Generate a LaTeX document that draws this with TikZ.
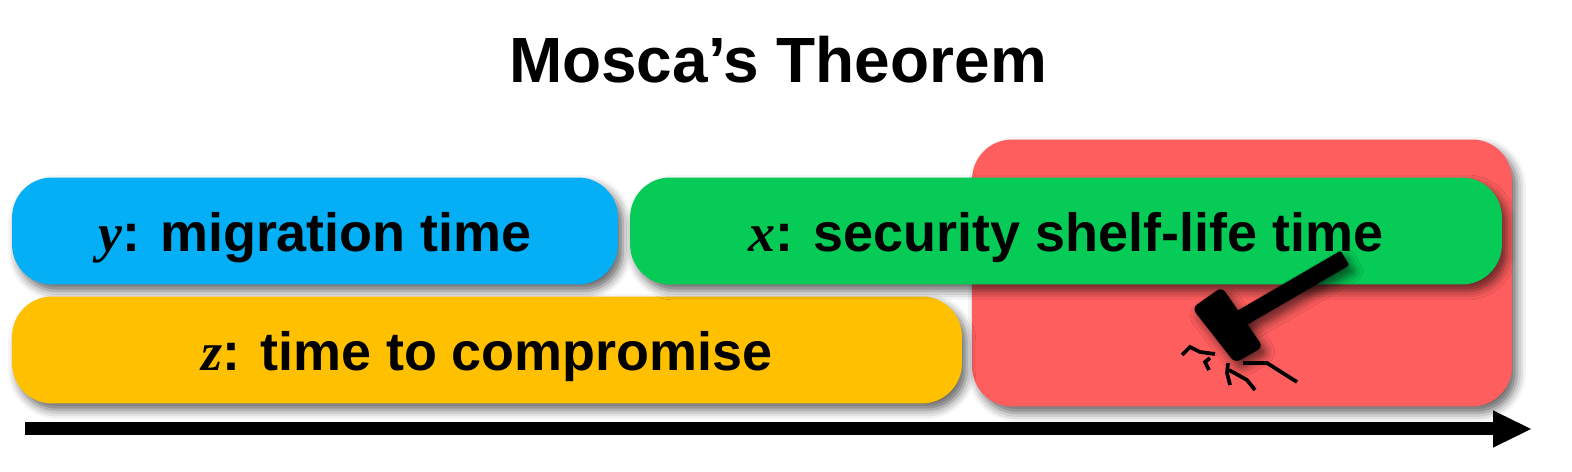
\documentclass[tikz,border=0pt]{standalone}
\usepackage{fontspec}
\setmainfont{Liberation Sans}
\newfontfamily\varfont{Liberation Serif}
\newcommand{\tvar}[1]{{\varfont\bfseries\itshape #1}}
\usetikzlibrary{arrows.meta,shadows.blur}
\definecolor{migblue}{RGB}{5,175,245}
\definecolor{lifegreen}{RGB}{6,203,86}
\definecolor{compyellow}{RGB}{255,192,0}
\definecolor{riskred}{RGB}{255,94,94}
\tikzset{
  soft/.style={blur shadow={shadow xshift=0.1cm, shadow yshift=-0.13cm,
      shadow blur radius=0.18cm, shadow opacity=60}},
  period/.style={soft, rounded corners=0.8cm, inner sep=0pt,
      text height=1.2cm, text depth=0.36cm, minimum height=2.14cm,
      font=\bfseries\fontsize{30.7pt}{36pt}\selectfont},
  crack/.style={line width=0.075cm, line join=miter},
}

\begin{document}
\begin{tikzpicture}[x=0.02cm, y=-0.02cm]
    \useasboundingbox (0,0) rectangle (1572,472);

    % coordinates to be reused
    \coordinate (t0) at (25,429);
    \coordinate (t1) at (1531,429);

    % time axis
    \draw [line width=0.26cm, fill=black, fill opacity=1,
        -{Triangle[length=0.76cm, width=0.74cm, line width=0.6pt]}] (t0) -- (t1);

    % title
    \node [anchor=base, font=\bfseries\fontsize{36.4pt}{42pt}\selectfont]
        (title) at (778,83) {Mosca’s Theorem};

    % time periods
    \node [period, fill=riskred, minimum width=10.8cm, minimum height=5.34cm]
        (risk) at (1242,273) {};
    \node [period, fill=migblue, minimum width=12.12cm] (mig) at (315,231)
        {\tvar{y}: migration time};
    \node [period, fill=compyellow, minimum width=19cm] (comp) at (487,350)
        {\tvar{z}: time to compromise};
    \node [period, fill=lifegreen, minimum width=17.44cm] (life) at (1066,231)
        {\tvar{x}: security shelf-life time};

    % hammer
    \fill [soft, rounded corners=0.04cm]
        (1239.3,329.3) -- (1230.7,314.7) -- (1340.7,250.7) -- (1349.3,265.3) -- cycle;
    \fill [soft, rounded corners=0.12cm]
        (1222,287) -- (1263,347) -- (1235,363) -- (1192,308) -- cycle;
    \draw [crack] (1215,354) -- (1200,352) -- (1190,347) -- (1182,355);
    \draw [crack] (1210,358) -- (1205,362) -- (1209,370);
    \draw [crack] (1228,363) -- (1227,373) -- (1230,385);
    \draw [crack] (1229,370) -- (1247,380) -- (1255,390);
    \draw [crack] (1243,363) -- (1267,363) -- (1278,370) -- (1297,382);
\end{tikzpicture}
\end{document}
